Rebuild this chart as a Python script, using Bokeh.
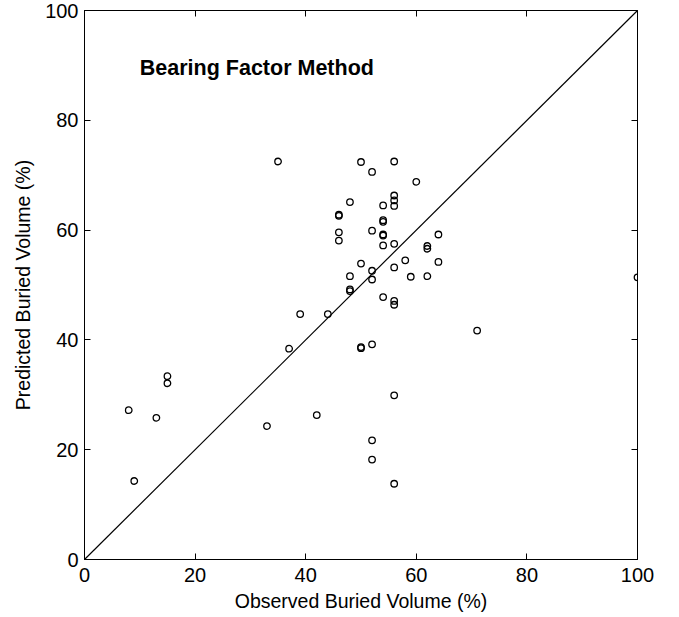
from bokeh.plotting import figure
from bokeh.models import LinearAxis, Range1d, FixedTicker, Label
from bokeh.embed import file_html
from bokeh.resources import INLINE

observed = [35, 50, 56, 52, 60, 56, 56, 56, 48, 54, 46, 46, 54, 54, 52, 46, 54, 54, 46,
            64, 62, 62, 54, 56, 58, 50, 56, 64, 48, 52, 59, 62, 52, 48, 48, 54, 56, 56,
            39, 44, 37, 50, 50, 52, 56, 42, 33, 52, 52, 56, 15, 15, 8, 13, 9, 71, 100]
predicted = [72.5, 72.4, 72.5, 70.6, 68.8, 66.3, 65.4, 64.4, 65.1, 64.5, 62.8, 62.6, 61.8, 61.5,
             59.9, 59.6, 59.2, 59.0, 58.1, 59.2, 57.1, 56.6, 57.2, 57.5, 54.5, 53.9, 53.2, 54.2,
             51.6, 52.6, 51.5, 51.6, 51.0, 49.2, 48.9, 47.8, 47.1, 46.4, 44.7, 44.7, 38.4, 38.7,
             38.5, 39.2, 29.9, 26.3, 24.3, 21.7, 18.2, 13.8, 33.4, 32.1, 27.2, 25.8, 14.3, 41.7, 51.4]
diag_x = [0, 100]
diag_y = [0, 100]
ticks = [0, 20, 40, 60, 80, 100]

FONT = "Liberation Sans"

p = figure(width=679, height=617, output_backend="svg", toolbar_location=None,
           x_range=Range1d(0, 100), y_range=Range1d(0, 100),
           min_border_left=84, min_border_right=42, min_border_top=10, min_border_bottom=58)
p.outline_line_color = "black"
p.outline_line_width = 1
p.xgrid.visible = False
p.ygrid.visible = False
p.background_fill_color = "white"
p.border_fill_color = "white"

p.line(diag_x, diag_y, line_color="black", line_width=1.2)
p.scatter(observed, predicted, marker="circle", size=6.5, fill_color=None,
          line_color="black", line_width=1.3)

for ax in (p.xaxis[0], p.yaxis[0]):
    ax.ticker = FixedTicker(ticks=ticks)
    ax.major_tick_in = 6
    ax.major_tick_out = 0
    ax.minor_tick_line_color = None
    ax.axis_line_color = "black"
    ax.major_label_text_font = FONT
    ax.major_label_text_font_size = "20px"
    ax.major_label_text_color = "black"
    ax.axis_label_text_font = FONT
    ax.axis_label_text_font_size = "19.5px"
    ax.axis_label_text_font_style = "normal"
    ax.axis_label_text_color = "black"

p.xaxis[0].axis_label = "Observed Buried Volume (%)"
p.yaxis[0].axis_label = "Predicted Buried Volume (%)"
p.xaxis[0].major_label_standoff = 8
p.yaxis[0].major_label_standoff = 6
p.xaxis[0].axis_label_standoff = 5
p.yaxis[0].axis_label_standoff = 8

for loc in ("right", "above"):
    ax = LinearAxis(ticker=FixedTicker(ticks=ticks), major_tick_in=6, major_tick_out=0,
                    minor_tick_line_color=None, major_label_text_font_size="0px",
                    axis_line_color="black")
    ax.major_label_text_alpha = 0
    p.add_layout(ax, loc)

title = Label(x=10, y=89.6, text="Bearing Factor Method", text_font=FONT,
              text_font_size="21.5px", text_font_style="bold", text_color="black",
              text_baseline="middle")
p.add_layout(title)

open("out.html", "w").write(file_html(p, INLINE))
